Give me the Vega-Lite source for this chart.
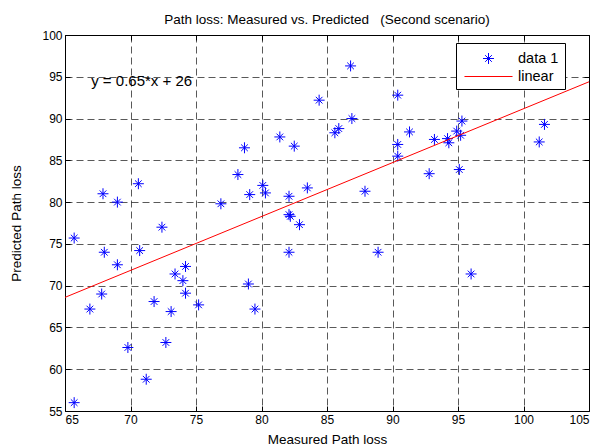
{
  "$schema": "https://vega.github.io/schema/vega-lite/v6.json",
  "width": 524,
  "height": 376,
  "autosize": "none",
  "padding": {"left": 65, "top": 35, "right": 15, "bottom": 34},
  "background": "white",
  "title": {"text": "Path loss: Measured vs. Predicted\u00a0\u00a0\u00a0(Second scenario)", "fontSize": 13.5, "font": "Liberation Sans", "fontWeight": "normal", "anchor": "middle", "offset": 3, "color": "black"},
  "config": {
    "view": {"stroke": "black", "strokeWidth": 1},
    "font": "Liberation Sans",
    "axis": {
      "domain": false,
      "tickSize": -5,
      "tickColor": "black",
      "labelPadding": 8,
      "labelFontSize": 12,
      "labelColor": "black",
      "labelFont": "Liberation Sans",
      "titleFont": "Liberation Sans",
      "titleFontSize": 13.5,
      "titleFontWeight": "normal",
      "titleColor": "black",
      "grid": true,
      "gridColor": "black",
      "gridOpacity": 0.65,
      "gridDash": [7, 4],
      "gridWidth": 1
    },
    "legend": {
      "orient": "none",
      "legendX": 391,
      "legendY": 8,
      "padding": 6,
      "strokeColor": "black",
      "fillColor": "white",
      "labelFontSize": 14.5,
      "labelFont": "Liberation Sans",
      "labelColor": "black",
      "symbolSize": 324,
      "symbolStrokeWidth": 1,
      "symbolOffset": 17,
      "rowPadding": 1,
      "labelOffset": 20,
      "cornerRadius": 0
    }
  },
  "datasets": {
    "pts": [
      {"m": 65.7, "p": 56.0, "series": "data 1"},
      {"m": 65.7, "p": 75.7, "series": "data 1"},
      {"m": 66.9, "p": 67.2, "series": "data 1"},
      {"m": 67.8, "p": 69.0, "series": "data 1"},
      {"m": 68.0, "p": 74.0, "series": "data 1"},
      {"m": 67.9, "p": 81.0, "series": "data 1"},
      {"m": 69.0, "p": 80.0, "series": "data 1"},
      {"m": 69.0, "p": 72.5, "series": "data 1"},
      {"m": 69.8, "p": 62.6, "series": "data 1"},
      {"m": 70.6, "p": 82.2, "series": "data 1"},
      {"m": 70.7, "p": 74.2, "series": "data 1"},
      {"m": 71.2, "p": 58.8, "series": "data 1"},
      {"m": 71.8, "p": 68.1, "series": "data 1"},
      {"m": 72.4, "p": 77.0, "series": "data 1"},
      {"m": 72.7, "p": 63.2, "series": "data 1"},
      {"m": 73.1, "p": 66.9, "series": "data 1"},
      {"m": 73.4, "p": 71.4, "series": "data 1"},
      {"m": 74.0, "p": 70.6, "series": "data 1"},
      {"m": 74.2, "p": 72.3, "series": "data 1"},
      {"m": 74.2, "p": 69.1, "series": "data 1"},
      {"m": 75.2, "p": 67.7, "series": "data 1"},
      {"m": 76.9, "p": 79.8, "series": "data 1"},
      {"m": 78.2, "p": 83.3, "series": "data 1"},
      {"m": 78.7, "p": 86.5, "series": "data 1"},
      {"m": 79.1, "p": 80.9, "series": "data 1"},
      {"m": 79.0, "p": 70.2, "series": "data 1"},
      {"m": 79.5, "p": 67.2, "series": "data 1"},
      {"m": 80.1, "p": 82.0, "series": "data 1"},
      {"m": 80.3, "p": 81.1, "series": "data 1"},
      {"m": 81.4, "p": 87.8, "series": "data 1"},
      {"m": 82.1, "p": 80.7, "series": "data 1"},
      {"m": 82.1, "p": 78.5, "series": "data 1"},
      {"m": 82.2, "p": 78.3, "series": "data 1"},
      {"m": 82.1, "p": 74.0, "series": "data 1"},
      {"m": 82.5, "p": 86.7, "series": "data 1"},
      {"m": 82.9, "p": 77.3, "series": "data 1"},
      {"m": 83.5, "p": 81.7, "series": "data 1"},
      {"m": 84.4, "p": 92.2, "series": "data 1"},
      {"m": 85.6, "p": 88.3, "series": "data 1"},
      {"m": 85.9, "p": 88.8, "series": "data 1"},
      {"m": 86.8, "p": 96.3, "series": "data 1"},
      {"m": 86.9, "p": 90.0, "series": "data 1"},
      {"m": 87.9, "p": 81.3, "series": "data 1"},
      {"m": 88.9, "p": 74.0, "series": "data 1"},
      {"m": 90.4, "p": 92.8, "series": "data 1"},
      {"m": 90.4, "p": 86.9, "series": "data 1"},
      {"m": 90.4, "p": 85.5, "series": "data 1"},
      {"m": 91.3, "p": 88.4, "series": "data 1"},
      {"m": 92.8, "p": 83.4, "series": "data 1"},
      {"m": 93.2, "p": 87.5, "series": "data 1"},
      {"m": 94.2, "p": 87.6, "series": "data 1"},
      {"m": 94.3, "p": 87.1, "series": "data 1"},
      {"m": 94.9, "p": 88.5, "series": "data 1"},
      {"m": 95.3, "p": 89.7, "series": "data 1"},
      {"m": 95.2, "p": 88.0, "series": "data 1"},
      {"m": 95.1, "p": 83.9, "series": "data 1"},
      {"m": 96.0, "p": 71.4, "series": "data 1"},
      {"m": 101.2, "p": 87.2, "series": "data 1"},
      {"m": 101.6, "p": 89.3, "series": "data 1"}
    ],
    "fit": [
      {"m": 65, "p": 68.6, "series": "linear"},
      {"m": 105, "p": 94.4, "series": "linear"}
    ],
    "eq": [
      {"m": 67.0, "p": 94.5, "label": "y = 0.65*x + 26"}
    ]
  },
  "layer": [
    {
      "data": {"name": "pts"},
      "mark": {"type": "point", "filled": false, "strokeWidth": 1, "size": 324, "opacity": 1},
      "encoding": {
        "x": {"field": "m", "type": "quantitative", "scale": {"domain": [65, 105], "nice": false, "zero": false},
              "axis": {"orient": "bottom", "values": [65, 70, 75, 80, 85, 90, 95, 100, 105], "title": "Measured Path loss", "titlePadding": 7}},
        "y": {"field": "p", "type": "quantitative", "scale": {"domain": [55, 100], "nice": false, "zero": false},
              "axis": {"orient": "left", "values": [55, 60, 65, 70, 75, 80, 85, 90, 95, 100], "title": "Predicted Path loss", "titlePadding": 18}},
        "color": {"field": "series", "type": "nominal", "scale": {"domain": ["data 1", "linear"], "range": ["#0000ff", "#ff0000"]}, "legend": {"title": null}},
        "shape": {"field": "series", "type": "nominal", "scale": {"domain": ["data 1", "linear"], "range": ["M-0.61,0L0.61,0M0,-0.61L0,0.61M-0.37,-0.37L0.37,0.37M-0.37,0.37L0.37,-0.37", "M-2.67,0L2.67,0"]}, "legend": {"title": null}}
      }
    },
    {
      "data": {"name": "fit"},
      "mark": {"type": "line", "strokeWidth": 1},
      "encoding": {
        "x": {"field": "m", "type": "quantitative",
              "axis": {"orient": "top", "values": [65, 70, 75, 80, 85, 90, 95, 100, 105], "labels": false, "title": null, "grid": false}},
        "y": {"field": "p", "type": "quantitative",
              "axis": {"orient": "right", "values": [55, 60, 65, 70, 75, 80, 85, 90, 95, 100], "labels": false, "title": null, "grid": false}},
        "color": {"field": "series", "type": "nominal", "legend": {"title": null}}
      }
    },
    {
      "data": {"name": "eq"},
      "mark": {"type": "text", "align": "left", "baseline": "middle", "fontSize": 15, "font": "Liberation Sans", "color": "black"},
      "encoding": {
        "x": {"field": "m", "type": "quantitative", "axis": null},
        "y": {"field": "p", "type": "quantitative", "axis": null},
        "text": {"field": "label"}
      }
    }
  ]
}
